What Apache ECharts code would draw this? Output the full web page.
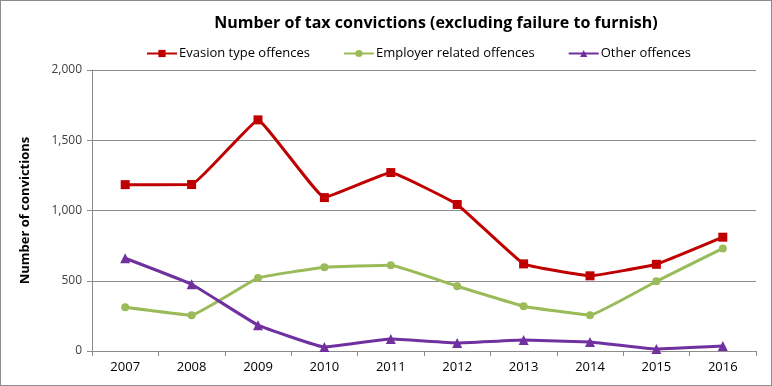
<!DOCTYPE html>
<html><head><meta charset="utf-8">
<script src="https://cdn.jsdelivr.net/npm/echarts@6/dist/echarts.min.js"></script>
<style>html,body{margin:0;padding:0;background:#fff}#c{width:772px;height:386px;box-sizing:border-box;border:1px solid #8c8c8c}</style>
</head><body><div id="c"></div>
<script>
const years = ['2007','2008','2009','2010','2011','2012','2013','2014','2015','2016'];
const evasion = [1184, 1185, 1645, 1092, 1270, 1043, 620, 535, 617, 810];
const employer = [312, 255, 520, 596, 610, 461, 319, 255, 496, 730];
const other = [660, 475, 184, 28, 85, 57, 78, 64, 14, 35];
const yTicks = [0, 500, 1000, 1500, 2000];

const chart = echarts.init(document.getElementById('c'), null, {renderer:'canvas'});
const font = 'Open Sans';
chart.setOption({
  animation:false,
  textStyle:{fontFamily:font},
  title:{text:'Number of tax convictions (excluding failure to furnish)', left:430, top:9, textAlign:'center',
    textStyle:{fontFamily:font, fontSize:16, fontWeight:'bold', color:'#000'}},
  legend:{top:41, left:140, itemGap:33, itemWidth:30, itemHeight:9,
    textStyle:{fontFamily:font, fontSize:13, color:'#000', padding:[0,0,0,-3]},
    data:['Evasion type offences','Employer related offences','Other offences']},
  grid:{left:91, right:15, top:69, bottom:34, containLabel:false},
  xAxis:{type:'category', data:years, boundaryGap:true,
    axisLine:{lineStyle:{color:'#8c8c8c'}},
    axisTick:{show:true, alignWithLabel:false, length:5, lineStyle:{color:'#8c8c8c'}},
    axisLabel:{fontFamily:font, fontSize:13, color:'#000', margin:10}},
  yAxis:{type:'value', min:0, max:2000, interval:500,
    name:'Number of convictions', nameLocation:'middle', nameGap:60, nameRotate:90,
    nameTextStyle:{fontFamily:font, fontSize:13, fontWeight:'bold', color:'#000'},
    axisLine:{show:true, lineStyle:{color:'#8c8c8c'}},
    axisTick:{show:true, length:5, lineStyle:{color:'#8c8c8c'}},
    splitLine:{lineStyle:{color:'#8c8c8c'}},
    axisLabel:{fontFamily:font, fontSize:12, color:'#404040', margin:10,
      formatter:v=>yTicks.includes(v)? v.toLocaleString('en-US') : ''}},
  series:[
    {name:'Evasion type offences', type:'line', data:evasion, smooth:0.08, symbol:'rect', symbolSize:9,
      lineStyle:{color:'#c00000', width:3}, itemStyle:{color:'#c00000'}},
    {name:'Employer related offences', type:'line', data:employer, smooth:0.08, symbol:'circle', symbolSize:8,
      lineStyle:{color:'#9bbb59', width:3}, itemStyle:{color:'#9bbb59'}},
    {name:'Other offences', type:'line', data:other, smooth:0.08, symbol:'triangle', symbolSize:10,
      lineStyle:{color:'#7030a0', width:3}, itemStyle:{color:'#7030a0'}}
  ]
});
</script></body></html>
